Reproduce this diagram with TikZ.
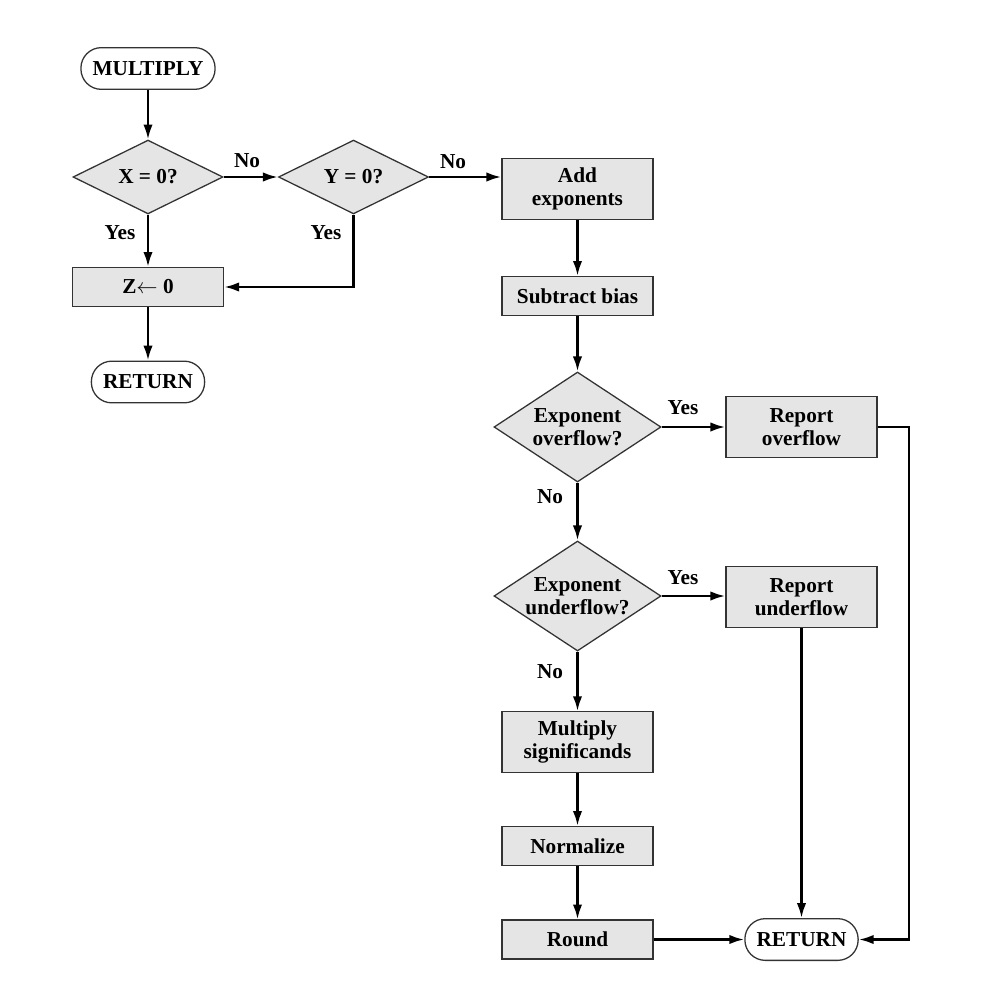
\documentclass[tikz,border=0pt]{standalone}
\usepackage{fontspec}
\setmainfont{Liberation Serif}
\usetikzlibrary{arrows.meta,shapes.geometric}

\begin{document}
\begin{tikzpicture}[x=0.47pt,y=-0.47pt,every node/.style={font=\fontsize{10}{11}\selectfont\bfseries},
  box/.style={draw=black!80,line width=.6pt,fill=black!10,minimum width=71pt,minimum height=18.3pt,inner xsep=3pt,inner ysep=4pt,align=center},
  tallbox/.style={box,minimum height=28.4pt},
  dec/.style={draw=black!80,line width=.6pt,fill=black!10,diamond,inner sep=0pt,align=center},
  term/.style={draw=black!80,line width=.6pt,rounded corners=9.6pt,minimum height=19.6pt,inner xsep=5.5pt},
  flow/.style={line width=1.15pt,-{Latex[length=7pt,width=4.4pt]}},
  lbl/.style={inner sep=0pt}]
\useasboundingbox (0,0) rectangle (1006,985);
% left branch
\node[term] (mul) at (148,68.5) {MULTIPLY};
\node[dec,minimum width=70.5pt,minimum height=30pt] (x0) at (148,177) {X = 0?};
\node[dec,minimum width=70.5pt,minimum height=30pt] (y0) at (353.5,177) {Y = 0?};
\node[box] (z0) at (148,287) {Z$\leftarrow$ 0};
\node[term] (ret1) at (148,382) {RETURN};
% main column
\node[tallbox] (add) at (577.5,189) {Add\\exponents};
\node[box] (sub) at (577.5,296) {Subtract bias};
\node[dec,aspect=1.5,minimum width=78.5pt,minimum height=51.7pt] (ovf) at (577.5,427) {Exponent\\overflow?};
\node[tallbox] (repo) at (801.5,427) {Report\\overflow};
\node[dec,aspect=1.5,minimum width=78.5pt,minimum height=51.7pt] (unf) at (577.5,596) {Exponent\\underflow?};
\node[tallbox] (repu) at (801.5,597) {Report\\underflow};
\node[tallbox] (msig) at (577.5,742) {Multiply\\significands};
\node[box] (norm) at (577.5,846) {Normalize};
\node[box] (rnd) at (577.5,939.5) {Round};
\node[term] (ret2) at (801.5,939.5) {RETURN};
\coordinate (cr) at (909,427);
% labels
\node[lbl] (nx) at (247,161) {No};
\node[lbl] (ny) at (453,162) {No};
\node[lbl] (yx) at (120,233) {Yes};
\node[lbl] (yy) at (326,233) {Yes};
\node[lbl] (yo) at (683,408) {Yes};
\node[lbl] (no) at (550,497) {No};
\node[lbl] (yu) at (683,578) {Yes};
\node[lbl] (nu) at (550,672) {No};
% connectors
\draw[flow] (mul) -- (x0);
\draw[flow] (x0) -- (y0);
\draw[flow] (y0.east) -- (y0.east -| add.west);
\draw[flow] (x0) -- (z0);
\draw[flow] (y0.south) |- (z0.east);
\draw[flow] (z0) -- (ret1);
\draw[flow] (add) -- (sub);
\draw[flow] (sub) -- (ovf);
\draw[flow] (ovf) -- (ovf -| repo.west);
\draw[flow] (ovf) -- (unf);
\draw[flow] (unf) -- (unf -| repu.west);
\draw[flow] (unf) -- (msig);
\draw[flow] (msig) -- (norm);
\draw[flow] (norm) -- (rnd);
\draw[flow] (rnd) -- (ret2);
\draw[flow] (repu) -- (ret2);
\draw[flow] (repo.east) -- (cr) |- (ret2.east);
\end{tikzpicture}
\end{document}
